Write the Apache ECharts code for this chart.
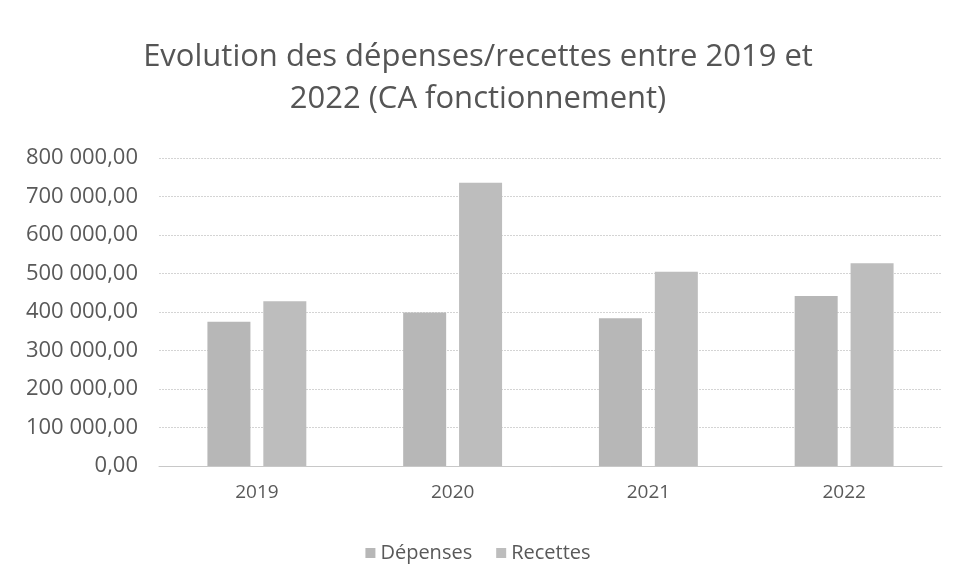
<!DOCTYPE html>
<html><head><meta charset="utf-8">
<script src="https://cdn.jsdelivr.net/npm/echarts@6/dist/echarts.min.js"></script>
<style>html,body{margin:0;padding:0;background:#fff}#c{width:956px;height:584px}</style>
</head><body><div id="c"></div>
<script>
const categories = ['2019', '2020', '2021', '2022'];
const depenses = [375000, 399000, 383500, 441500];
const recettes = [428000, 736000, 504500, 526500];
const yTicks = { min: 0, max: 800000, interval: 100000 };
const legendNames = ['Dépenses', 'Recettes'];
const titleText = 'Evolution des dépenses/recettes entre 2019 et\n2022 (CA fonctionnement)';

function fmt(v) {
  const s = Math.round(v).toString().replace(/\B(?=(\d{3})+(?!\d))/g, ' ');
  return s + ',00';
}
const chart = echarts.init(document.getElementById('c'), null, { renderer: 'canvas' });
chart.setOption({
  backgroundColor: '#fff',
  animation: false,
  title: {
    text: titleText, left: 'center', top: 31,
    textStyle: { fontFamily: 'Open Sans', fontWeight: 'normal', fontSize: 31, color: '#555555', lineHeight: 42 }
  },
  legend: {
    data: legendNames, top: 538, left: 'center', itemWidth: 10, itemHeight: 10, itemGap: 24, icon: 'rect',
    textStyle: { fontFamily: 'Open Sans', fontSize: 20, color: '#595959' }
  },
  grid: { left: 159, right: 14, top: 158, bottom: 118 },
  xAxis: {
    type: 'category', data: categories,
    axisLine: { lineStyle: { color: '#c8c8c8' } }, axisTick: { show: false },
    axisLabel: { fontFamily: 'Open Sans', fontSize: 19, color: '#595959', margin: 17 }
  },
  yAxis: {
    type: 'value', min: yTicks.min, max: yTicks.max, interval: yTicks.interval,
    axisLine: { show: false }, axisTick: { show: false },
    splitLine: { lineStyle: { color: '#d4d4d4', type: [2, 1] } },
    axisLabel: { fontFamily: 'Open Sans', fontSize: 22, color: '#595959', margin: 21, formatter: fmt }
  },
  series: [
    { name: legendNames[0], type: 'bar', data: depenses, barWidth: 43, barGap: '30%', itemStyle: { color: '#b7b7b7' } },
    { name: legendNames[1], type: 'bar', data: recettes, barWidth: 43, itemStyle: { color: '#bdbdbd' } }
  ]
});
</script></body></html>
